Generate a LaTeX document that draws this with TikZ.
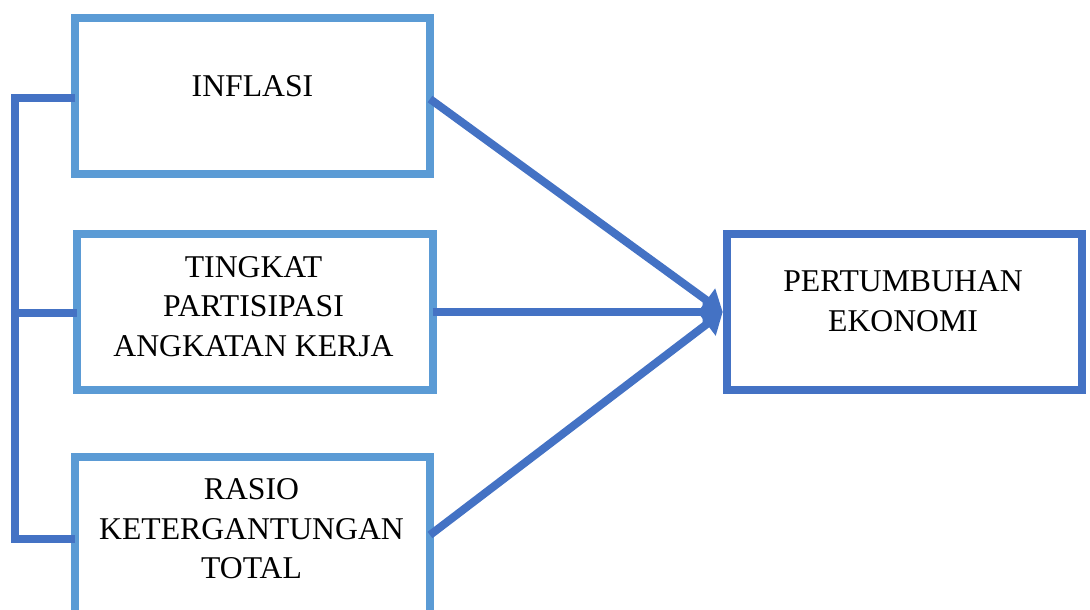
\documentclass[tikz,border=0pt]{standalone}
\usepackage{fontspec}
\setmainfont{Liberation Serif}
\usetikzlibrary{arrows.meta}
\definecolor{lightbl}{RGB}{91,155,213}
\definecolor{darkbl}{RGB}{68,114,196}
\tikzset{
  box/.style={draw=lightbl, line width=8pt, rectangle, outer sep=0pt, inner sep=0pt,
    minimum width=355pt, minimum height=156pt},
  outbox/.style={box, draw=darkbl},
  lbl/.style={inner sep=0pt, align=center, text=black,
    font=\fontsize{31.7}{39.5}\selectfont},
  conn/.style={draw=darkbl, line width=8pt},
  arr/.style={conn, -{Triangle[length=20pt,width=28pt]}},
}
\begin{document}
\begin{tikzpicture}[x=1pt,y=-1pt]
\useasboundingbox (0,0) rectangle (1090,610);
% boxes
\node[box] (inf) at (252.5,96) {};
\node[box, minimum width=355.5pt, minimum height=155.5pt] (tpak) at (254.75,311.75) {};
\node[box, minimum height=160pt] (rasio) at (252.5,537) {};
\node[outbox, minimum width=355.3pt] (pert) at (904.35,312) {};
% texts
\node[lbl] (inf-t) at (252.5,86) {INFLASI};
\node[lbl] (tpak-t) at (253.5,306.5) {TINGKAT\\PARTISIPASI\\ANGKATAN KERJA};
\node[lbl] (rasio-t) at (251.5,529) {RASIO\\KETERGANTUNGAN\\TOTAL};
\node[lbl] (pert-t) at (903,301) {PERTUMBUHAN\\EKONOMI};
% bracket
\coordinate (b1) at (15,97.5);
\coordinate (b2) at (15,313);
\coordinate (b3) at (15,539);
\draw[conn] (inf.west |- b1) -- (b1) -- (b3) -- (rasio.west |- b3);
\draw[conn] (b2) -- (tpak.west |- b2);
% arrows
\coordinate (tip) at ([xshift=-4pt]pert.west);
\coordinate (s1) at (0,99);
\coordinate (s3) at (0,535);
\draw[arr] (inf.east |- s1) -- (tip);
\draw[arr] (tpak.east |- tip) -- (tip);
\draw[arr] (rasio.east |- s3) -- (tip);
\end{tikzpicture}
\end{document}
